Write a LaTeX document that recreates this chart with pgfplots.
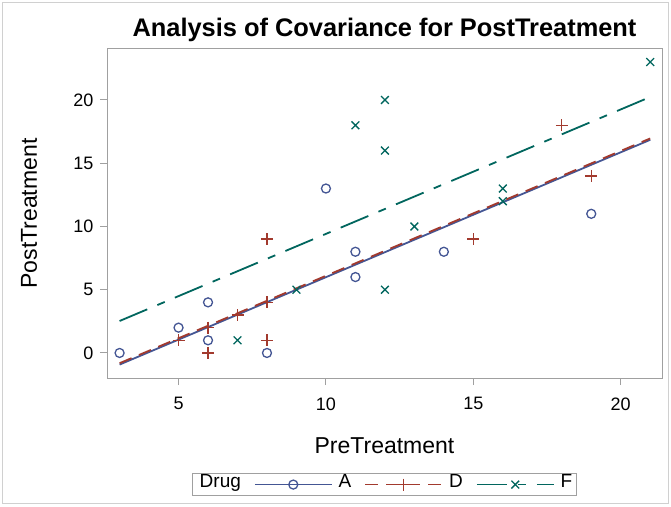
\documentclass[border=0pt]{standalone}
\usepackage{fontspec}
\setmainfont{Liberation Sans}
\usepackage{pgfplots}
\pgfplotsset{compat=1.18}
\definecolor{cA}{HTML}{445694}
\definecolor{cD}{HTML}{A23A2E}
\definecolor{cF}{HTML}{01665E}
\definecolor{axgray}{HTML}{A0A0A0}
\definecolor{framegray}{HTML}{D0D0D0}
\begin{document}
\begin{tikzpicture}
\useasboundingbox (0,0) rectangle (671pt,506pt);
\draw[framegray, line width=1.5pt] (2.5pt,2.5pt) rectangle (668.5pt,503.5pt);
\begin{axis}[
  at={(107pt,128pt)}, anchor=south west,
  scale only axis, width=555pt, height=329pt,
  xmin=2.573, xmax=21.40, ymin=-1.98, ymax=24.03,
  xtick={5,10,15,20}, ytick={0,5,10,15,20},
  xtick pos=bottom, ytick pos=left,
  tick align=outside, major tick length=7pt,
  tick style={axgray, line width=1pt},
  axis line style={axgray, line width=1pt},
  /pgf/number format/assume math mode=true,
  tick label style={font=\fontsize{18}{21}\selectfont},
  xticklabel style={yshift=-9pt},
  yticklabel style={xshift=-3pt},
  title={\bfseries Analysis of Covariance for PostTreatment},
  title style={font=\fontsize{25.4}{30}\selectfont, at={(axis description cs:0.5,1)}, anchor=base, yshift=6pt},
  xlabel={PreTreatment}, ylabel={PostTreatment},
  label style={font=\fontsize{23}{27}\selectfont},
  xlabel style={at={(axis description cs:0.5,-0.2067)}, anchor=center},
  ylabel style={at={(axis description cs:-0.1405,0.5)}, anchor=center},
  legend columns=-1,
  legend style={at={(axis description cs:0.5,-0.289)}, anchor=north, draw=axgray, line width=1pt,
    font=\fontsize{19}{22}\selectfont, inner xsep=4pt, inner ysep=5pt,
    nodes={inner sep=0pt, text height=0.72em, text depth=0.2em},
    /tikz/every odd column/.append style={column sep=6pt},
    /tikz/every even column/.append style={column sep=13pt}},
  legend image code/.code={\draw[#1, mark indices={2}] plot coordinates {(0pt,0pt) (38.5pt,0pt) (77pt,0pt)};},
]
% fit lines
\addplot[cA, line width=1.8pt, forget plot] coordinates {(3,-0.9193) (21,16.8500)};
\addplot[cD, line width=1.8pt, dash pattern=on 13pt off 8pt, forget plot] coordinates {(3,-0.8103) (21,16.9590)};
\addplot[cF, line width=1.8pt, dash pattern=on 30pt off 11pt on 8pt off 11pt, forget plot] coordinates {(3,2.5268) (21,20.2361)};
% points
\addplot[only marks, mark=o, mark size=4.5pt, cA, mark options={draw=cA, solid, line width=1.3pt}, forget plot] coordinates {
(11,6) (8,0) (5,2) (14,8) (19,11) (6,4) (10,13) (6,1) (11,8) (3,0)};
\addplot[only marks, mark=+, mark size=6pt, cD, mark options={draw=cD, solid, line width=1.3pt}, forget plot] coordinates {
(6,0) (6,2) (7,3) (8,1) (18,18) (8,4) (19,14) (8,9) (5,1) (15,9)};
\addplot[only marks, mark=x, mark size=5.5pt, cF, mark options={draw=cF, solid, line width=1.3pt}, forget plot] coordinates {
(16,13) (13,10) (11,18) (9,5) (21,23) (16,12) (12,5) (12,16) (7,1) (12,20)};
% legend
\addlegendimage{empty legend}
\addlegendentry{\hspace{-3pt}Drug\hspace{15pt}}
\addlegendimage{cA, line width=1.8pt, mark=o, mark size=4.5pt, mark options={draw=cA, line width=1.3pt}}
\addlegendentry{A}
\addlegendimage{cD, line width=1.8pt, dash pattern=on 13pt off 8pt, mark=+, mark size=6pt, mark options={draw=cD, solid, line width=1.3pt}}
\addlegendentry{D}
\addlegendimage{cF, line width=1.8pt, dash pattern=on 30pt off 11pt on 8pt off 11pt, mark=x, mark size=5.5pt, mark options={draw=cF, solid, line width=1.3pt}}
\addlegendentry{F}
\end{axis}
\end{tikzpicture}
\end{document}
